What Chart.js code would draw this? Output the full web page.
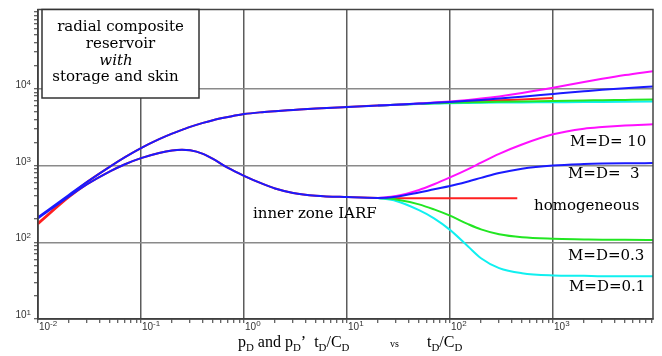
<!DOCTYPE html>
<html>
<head>
<meta charset="utf-8">
<script src="https://cdn.jsdelivr.net/npm/chart.js@4.4.1/dist/chart.umd.min.js"></script>
<style>
    html, body { margin: 0; padding: 0; background: #fff; }
    #wrap { width: 662px; height: 356px; }
</style>
</head>
<body>
<div id="wrap"><canvas id="chart" width="662" height="356"></canvas></div>
<script>
// Early time, shared by every case (tD/CD, pD, pD' tD/CD)
const tEarly   = [0.01, 0.02, 0.03, 0.05, 0.07, 0.1, 0.15, 0.2, 0.25, 0.3, 0.4, 0.5, 0.7, 1, 1.5, 2, 3, 5, 10, 20];
const pdEarly  = [212, 416, 612, 969, 1286, 1686, 2204, 2603, 2910, 3188, 3597, 3900, 4286, 4680, 4960, 5110, 5290, 5520, 5790, 6050];
const dpdEarly = [205, 395, 570, 840, 1040, 1250, 1460, 1570, 1600, 1580, 1420, 1220, 930, 735, 580, 502, 440, 405, 388, 378];
// homogeneous reference (red) differs only at the very start
const pdHomStart  = [178, 400];
const dpdHomStart = [172, 385];

// Homogeneous late time
const tHomPd  = [30, 50, 100, 200, 300, 500, 1000];
const pdHom   = [6204, 6398, 6661, 6924, 7078, 7272, 7560];
const tHomDpd = [30, 100, 450];
const dpdHom  = [376, 376, 376];

// Composite cases, late time
const tLate  = [30, 50, 70, 100, 150, 200, 300, 500, 1000, 2000, 3000, 5000, 9350];
const pdM10  = [6208, 6430, 6620, 6840, 7164, 7450, 7958, 8800, 10300, 12250, 13500, 15100, 17000];
const pdM3   = [6206, 6415, 6560, 6740, 6970, 7160, 7460, 7900, 8560, 9270, 9700, 10200, 10750];
const pdM03  = [6200, 6371, 6460, 6555, 6640, 6700, 6770, 6850, 6950, 7040, 7100, 7170, 7260];
const pdM01  = [6197, 6354, 6430, 6500, 6550, 6580, 6610, 6640, 6680, 6720, 6740, 6770, 6810];
const dpdM10 = [400, 480, 570, 700, 900, 1090, 1420, 1880, 2550, 3020, 3180, 3330, 3440];
const dpdM3  = [392, 445, 490, 540, 620, 690, 800, 910, 1000, 1045, 1060, 1070, 1075];
const dpdM03 = [362, 312, 268, 222, 172, 147, 127, 116, 111, 109, 108, 107.5, 107];
const dpdM01 = [345, 262, 205, 145, 88, 62, 46, 39.5, 37, 36.5, 36, 36, 36];

// Axes
const xDecades = [-2, -1, 0, 1, 2, 3];
const yDecades = [1, 2, 3, 4];
const X_MIN = 0.01, X_MAX = 9350;
const Y_MIN = 10, Y_MAX = 108000;

const toPts = (xs, ys) => xs.map((x, i) => ({ x: x, y: ys[i] }));

function fullSeries(pdLate, dpdLate) {
    return {
        pd: toPts(tEarly, pdEarly).concat(toPts(tLate, pdLate)),
        dpd: toPts(tEarly, dpdEarly).concat(toPts(tLate, dpdLate))
    };
}
function lateSeries(pdLate, dpdLate) {
    const n = tEarly.length - 1;
    return {
        pd: [{ x: tEarly[n], y: pdEarly[n] }].concat(toPts(tLate, pdLate)),
        dpd: [{ x: tEarly[n], y: dpdEarly[n] }].concat(toPts(tLate, dpdLate))
    };
}

const hom = {
    pd: toPts(tEarly, pdHomStart.concat(pdEarly.slice(2))).concat(toPts(tHomPd, pdHom)),
    dpd: toPts(tEarly, dpdHomStart.concat(dpdEarly.slice(2))).concat(toPts(tHomDpd, dpdHom))
};
const m3 = fullSeries(pdM3, dpdM3);
const m10 = lateSeries(pdM10, dpdM10);
const m03 = lateSeries(pdM03, dpdM03);
const m01 = lateSeries(pdM01, dpdM01);

const BLUE = '#1a1aff', RED = '#ff2020', MAGENTA = '#ff10ff', GREEN = '#22e622', CYAN = '#10f0f0';

function line(data, color) {
    return {
        data: data,
        borderColor: color,
        borderWidth: 2,
        pointRadius: 0,
        showLine: true,
        fill: false,
        cubicInterpolationMode: 'monotone'
    };
}

// first dataset is painted last (on top)
const datasets = [
    line(m3.pd, BLUE), line(m3.dpd, BLUE),
    line(m10.pd, MAGENTA), line(m10.dpd, MAGENTA),
    line(m03.pd, GREEN), line(m03.dpd, GREEN),
    line(m01.pd, CYAN), line(m01.dpd, CYAN),
    line(hom.pd, RED), line(hom.dpd, RED)
];

function logTicks(decades, lo, hi) {
    const out = [];
    const first = decades[0], last = decades[decades.length - 1] + 1;
    for (let e = first; e <= last; e++) {
        for (let k = 1; k <= 9; k++) {
            const v = k * Math.pow(10, e);
            if (v >= lo * 0.999 && v <= hi) out.push({ value: v, major: k === 1 });
        }
    }
    return out;
}

const isMajorInside = (v, decades) =>
    decades.some(e => Math.abs(v - Math.pow(10, e)) < 1e-9 * Math.pow(10, e));

// Draw text made of normal and subscript pieces
function drawRich(ctx, parts, x, y, size, family) {
    let cx = x;
    parts.forEach(p => {
        const fs = p.sub ? size * 0.68 : (p.size || size);
        ctx.font = fs + 'px ' + family;
        ctx.fillText(p.t, cx, y + (p.sub ? size * 0.22 : 0));
        cx += ctx.measureText(p.t).width;
    });
}

const decorations = {
    id: 'decorations',
    afterDraw(chart) {
        const ctx = chart.ctx;
        const a = chart.chartArea;
        const xs = chart.scales.x, ys = chart.scales.y;
        ctx.save();

        // plot frame
        ctx.strokeStyle = '#444';
        ctx.lineWidth = 1.5;
        ctx.strokeRect(a.left, a.top, a.right - a.left, a.bottom - a.top);

        // title box
        ctx.fillStyle = '#fff';
        ctx.fillRect(42, a.top, 157, 88.5);
        ctx.strokeStyle = '#333';
        ctx.strokeRect(42, a.top, 157, 88.5);

        const serif = '"DejaVu Serif", serif';
        ctx.fillStyle = '#000';
        ctx.textBaseline = 'alphabetic';
        ctx.textAlign = 'center';
        ctx.font = '15px ' + serif;
        ctx.fillText('radial composite', 120.5, 31);
        ctx.fillText('reservoir', 120.5, 48);
        ctx.font = 'italic 15px ' + serif;
        ctx.fillText('with', 116, 64.5);
        ctx.font = '15px ' + serif;
        ctx.fillText('storage and skin', 115.5, 81);

        // curve labels
        ctx.textAlign = 'left';
        ctx.fillText('M=D= 10', 570, 146);
        ctx.fillText('M=D=  3', 568, 178);
        ctx.fillText('homogeneous', 534, 210);
        ctx.fillText('M=D=0.3', 568, 260);
        ctx.fillText('M=D=0.1', 569, 291);
        ctx.fillText('inner zone IARF', 253, 218);

        // tick labels 10^n
        const sans = '"Liberation Sans", Arial, sans-serif';
        ctx.fillStyle = '#333';
        xDecades.forEach(e => {
            const px = xs.getPixelForValue(Math.pow(10, e));
            ctx.font = '10px ' + sans;
            ctx.fillText('10', px + 1, 330);
            const w = ctx.measureText('10').width;
            ctx.font = '8px ' + sans;
            ctx.fillText(String(e), px + 1 + w, 326);
        });
        yDecades.forEach(e => {
            const py = ys.getPixelForValue(Math.pow(10, e));
            ctx.font = '8px ' + sans;
            const we = ctx.measureText(String(e)).width;
            ctx.fillText(String(e), 31 - we, py - 4);
            ctx.font = '10px ' + sans;
            const w = ctx.measureText('10').width;
            ctx.fillText('10', 31 - we - w, py - 1);
        });

        // axis title
        ctx.fillStyle = '#000';
        const tf = '"Liberation Serif", "Times New Roman", serif';
        drawRich(ctx, [
            { t: 'p' }, { t: 'D', sub: true }, { t: ' and p' }, { t: 'D', sub: true },
            { t: '\u2019  t' }, { t: 'D', sub: true }, { t: '/C' }, { t: 'D', sub: true }
        ], 238, 347, 16, tf);
        drawRich(ctx, [{ t: 'vs', size: 10 }], 390, 347, 16, tf);
        drawRich(ctx, [
            { t: 't' }, { t: 'D', sub: true }, { t: '/C' }, { t: 'D', sub: true }
        ], 427, 347, 16, tf);

        ctx.restore();
    }
};

new Chart(document.getElementById('chart'), {
    type: 'scatter',
    data: { datasets: datasets },
    options: {
        responsive: false,
        devicePixelRatio: 1,
        animation: false,
        layout: { padding: { left: 0, top: 9.5, right: 9, bottom: 0 } },
        plugins: { legend: { display: false }, tooltip: { enabled: false } },
        scales: {
            x: {
                type: 'logarithmic',
                min: X_MIN,
                max: X_MAX,
                afterBuildTicks: s => { s.ticks = logTicks(xDecades, X_MIN, X_MAX); },
                afterFit: s => { s.height = 37; },
                ticks: { display: false },
                border: { display: true, color: '#333', width: 1.5 },
                grid: {
                    color: c => (c.tick && c.tick.value > X_MIN * 1.01 && isMajorInside(c.tick.value, xDecades)) ? '#5c5c5c' : 'rgba(0,0,0,0)',
                    lineWidth: 1.5,
                    tickColor: '#333',
                    tickWidth: 1,
                    tickLength: 4,
                    drawTicks: true
                }
            },
            y: {
                type: 'logarithmic',
                min: Y_MIN,
                max: Y_MAX,
                afterBuildTicks: s => { s.ticks = logTicks(yDecades, Y_MIN, Y_MAX); },
                afterFit: s => { s.width = 38; },
                ticks: { display: false },
                border: { display: true, color: '#333', width: 1.5 },
                grid: {
                    color: c => (c.tick && c.tick.value > Y_MIN * 1.01 && isMajorInside(c.tick.value, yDecades)) ? '#8a8a8a' : 'rgba(0,0,0,0)',
                    lineWidth: 1.5,
                    tickColor: '#333',
                    tickWidth: 1,
                    tickLength: 4,
                    drawTicks: true
                }
            }
        }
    },
    plugins: [decorations]
});
</script>
</body>
</html>
